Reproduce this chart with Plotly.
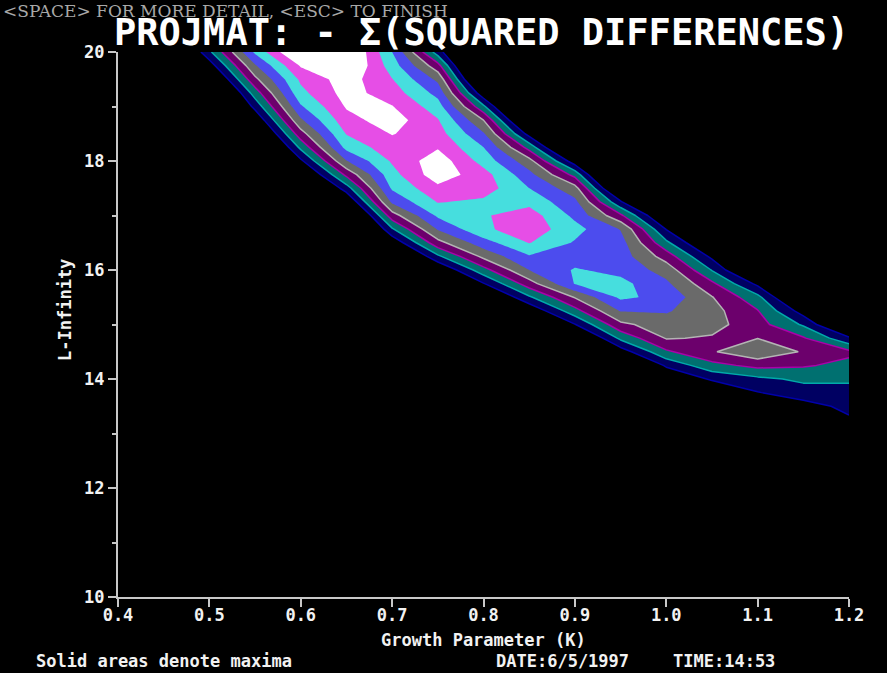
import numpy as np
import plotly.graph_objects as go

# Grid axes: growth parameter K (columns) and L-infinity (rows, top to bottom)
growth_k = [0.40, 0.45, 0.50, 0.55, 0.60, 0.65, 0.70, 0.75, 0.80,
            0.85, 0.90, 0.95, 1.00, 1.05, 1.10, 1.15, 1.20]
l_infinity = [20.0, 19.75, 19.5, 19.25, 19.0, 18.75, 18.5, 18.25, 18.0,
              17.75, 17.5, 17.25, 17.0, 16.75, 16.5, 16.25, 16.0, 15.75,
              15.5, 15.25, 15.0, 14.75, 14.5, 14.25, 14.0, 13.75, 13.5,
              13.25, 13.0]

# Fit score (contour-level units) down each K column, L = 20 .. 13
fit_k040 = [-3, -3, -3, -3, -3, -3, -3, -3, -3, -3, -3, -3, -3, -3, -3,
            -3, -3, -3, -3, -3, -3, -3, -3, -3, -3, -3, -3, -3, -3]
fit_k045 = [-2.5, -3, -3, -3, -3, -3, -3, -3, -3, -3, -3, -3, -3, -3, -3,
            -3, -3, -3, -3, -3, -3, -3, -3, -3, -3, -3, -3, -3, -3]
fit_k050 = [1.8, 0.45, -0.9, -2.3, -3, -3, -3, -3, -3, -3, -3, -3, -3, -3, -3,
            -3, -3, -3, -3, -3, -3, -3, -3, -3, -3, -3, -3, -3, -3]
fit_k055 = [6.2, 4.88, 3.75, 2.49, 1.33, 0.05, -1.2, -2.5, -3, -3, -3, -3, -3,
            -3, -3, -3, -3, -3, -3, -3, -3, -3, -3, -3, -3, -3, -3, -3, -3]
fit_k060 = [9.5, 8.1, 7.2, 6.71, 5.88, 4.83, 3.58, 2.24, 0.78, -0.7, -2.2, -3,
            -3, -3, -3, -3, -3, -3, -3, -3, -3, -3, -3, -3, -3, -3, -3, -3, -3]
fit_k065 = [9.5, 9.3, 8.5, 8.4, 8.1, 7.65, 7.05, 6.31, 4.94, 3.24, 1.53, -0.18,
            -1.9, -3, -3, -3, -3, -3, -3, -3, -3, -3, -3, -3, -3, -3, -3, -3, -3]
fit_k070 = [6.0, 6.5, 7.04, 7.5, 8.05, 8.5, 8.05, 7.59, 7.13, 6.64, 6.14, 5.18,
            3.56, 1.88, 0.16, -1.55, -3, -3, -3, -3, -3, -3, -3, -3, -3, -3,
            -3, -3, -3]
fit_k075 = [1.5, 3.37, 4.77, 5.68, 6.45, 7.08, 7.44, 7.9, 8.6, 8.6, 7.74, 7.06,
            6.17, 5.08, 3.66, 1.8, -0.14, -2.0, -3, -3, -3, -3, -3, -3, -3, -3,
            -3, -3, -3]
fit_k080 = [-3, -3, -1.7, 0.21, 2.21, 4.0, 5.12, 6.02, 6.61, 7.4, 7.5, 6.8,
            6.9, 6.8, 5.57, 4.26, 2.63, 0.93, -0.8, -2.5, -3, -3, -3, -3, -3,
            -3, -3, -3, -3]
fit_k085 = [-3, -3, -3, -3, -3, -1.36, 0.59, 2.63, 4.36, 5.33, 6.01, 6.7, 7.5,
            7.6, 7.05, 5.91, 5.0, 3.55, 1.84, 0.09, -1.6, -3, -3, -3, -3, -3,
            -3, -3, -3]
fit_k090 = [-3, -3, -3, -3, -3, -3, -3, -1.9, 0.37, 2.66, 4.39, 5.26, 5.76,
            6.35, 5.9, 5.5, 6.1, 6.05, 4.07, 2.64, 0.95, -0.94, -2.9, -3, -3, -3,
            -3, -3, -3]
fit_k095 = [-3, -3, -3, -3, -3, -3, -3, -3, -3, -3, -1.1, 1.15, 3.2, 4.95, 5.4,
            5.5, 5.7, 6.3, 6.2, 5.07, 3.75, 2.24, 0.43, -2.4, -3, -3, -3, -3, -3]
fit_k100 = [-3, -3, -3, -3, -3, -3, -3, -3, -3, -3, -3, -3, -0.5, 0.95, 2.23,
            3.55, 4.59, 5.2, 5.7, 5.1, 4.57, 4.07, 2.83, 1.23, -0.5, -2.2, -3,
            -3, -3]
fit_k105 = [-3, -3, -3, -3, -3, -3, -3, -3, -3, -3, -3, -3, -3, -3, -0.57, 0.75,
            1.95, 3.21, 4.05, 4.35, 4.35, 3.9, 3.9, 2.66, 1.2, -0.5, -2.2, -3, -3]
fit_k110 = [-3, -3, -3, -3, -3, -3, -3, -3, -3, -3, -3, -3, -3, -3, -3, -3,
            -1.2, 0.74, 2.3, 3.05, 3.4, 3.98, 4.8, 3.3, 1.76, 0.95, -0.4, -1.8,
            -3]
fit_k115 = [-3, -3, -3, -3, -3, -3, -3, -3, -3, -3, -3, -3, -3, -3, -3, -3, -3,
            -3, -1.2, 0.51, 1.86, 3.1, 3.9, 3.1, 2.2, 1.54, 0.58, -0.8, -2.2]
fit_k120 = [-3, -3, -3, -3, -3, -3, -3, -3, -3, -3, -3, -3, -3, -3, -3, -3, -3,
            -3, -3, -3, -1.1, 1.18, 3.2, 2.75, 2.14, 1.68, 1.27, 0.85, -0.5]

# Y-axis ticks
l_ticks = [10, 12, 14, 16, 18, 20]

score = np.column_stack([
    fit_k040, fit_k045, fit_k050, fit_k055, fit_k060, fit_k065, fit_k070,
    fit_k075, fit_k080, fit_k085, fit_k090, fit_k095, fit_k100, fit_k105,
    fit_k110, fit_k115, fit_k120,
])

# Band colours from the background up to the maxima (solid white)
band_colors = ["#000000", "#000062", "#007070", "#6c006c", "#6a6a6a",
               "#4c4cee", "#46dede", "#e64ee6", "#ffffff"]
colorscale = [[i / (len(band_colors) - 1), c] for i, c in enumerate(band_colors)]

MONO = "DejaVu Sans Mono"

fig = go.Figure()

fig.add_trace(go.Contour(
    x=growth_k, y=l_infinity, z=score,
    autocontour=False,
    contours=dict(start=1, end=8, size=1, coloring="fill", showlines=False),
    colorscale=colorscale,
    line=dict(width=0, smoothing=0),
    showscale=False,
    hoverinfo="skip",
))

# Outline colours for the lower contour levels
outline = [(1, "#0000aa"), (2, "#00aaaa"), (3, "#aa00aa"), (4, "#b4b4b4")]
for level, col in outline:
    fig.add_trace(go.Contour(
        x=growth_k, y=l_infinity, z=score,
        autocontour=False,
        contours=dict(start=level, end=level, size=1, coloring="none"),
        line=dict(color=col, width=1.5, smoothing=0),
        showscale=False,
        hoverinfo="skip",
    ))

axis_col = "#c8c8c8"
tick_font = dict(family=MONO, size=17, color="#f2f2f2", weight="bold")

fig.update_layout(
    width=887, height=673,
    margin=dict(l=118, r=38, t=52, b=76),
    paper_bgcolor="#000000",
    plot_bgcolor="#000000",
    showlegend=False,
    xaxis=dict(
        range=[0.4, 1.2], tick0=0.4, dtick=0.1, tickformat=".1f",
        ticks="outside", ticklen=8, tickwidth=2, tickcolor=axis_col,
        ticklabelstandoff=-6,
        showline=True, linecolor=axis_col, linewidth=2,
        showgrid=False, zeroline=False, tickfont=tick_font,
    ),
    yaxis=dict(
        range=[10, 20], tickvals=l_ticks,
        ticks="outside", ticklen=8, tickwidth=2, tickcolor=axis_col,
        minor=dict(dtick=1, ticks="outside", ticklen=4, tickwidth=2,
                   tickcolor=axis_col, showgrid=False),
        showline=True, linecolor=axis_col, linewidth=2,
        showgrid=False, zeroline=False, tickfont=tick_font,
    ),
)

def px_x(px):
    return (px - 118) / 731.0

def px_y(py):
    return (597 - py) / 545.0

label_font = dict(family=MONO, size=17, color="#f2f2f2", weight="bold")

fig.add_annotation(
    text="<SPACE> FOR MORE DETAIL, <ESC> TO FINISH",
    xref="paper", yref="paper", x=px_x(1), y=px_y(11),
    xanchor="left", yanchor="middle", showarrow=False,
    font=dict(family="DejaVu Serif", size=17, color="#a8a8a8"),
)
fig.add_annotation(
    text="PROJMAT: - \u03a3(SQUARED DIFFERENCES)",
    xref="paper", yref="paper", x=px_x(481), y=px_y(33),
    xanchor="center", yanchor="middle", showarrow=False,
    font=dict(family=MONO, size=37, color="#ffffff", weight="bold"),
)
fig.add_annotation(
    text="L-Infinity", textangle=-90,
    xref="paper", yref="paper", x=px_x(65), y=px_y(310),
    xanchor="center", yanchor="middle", showarrow=False,
    font=label_font,
)
fig.add_annotation(
    text="Growth Parameter (K)",
    xref="paper", yref="paper", x=px_x(483), y=px_y(640),
    xanchor="center", yanchor="middle", showarrow=False,
    font=label_font,
)
fig.add_annotation(
    text="Solid areas denote maxima",
    xref="paper", yref="paper", x=px_x(34), y=px_y(661),
    xanchor="left", yanchor="middle", showarrow=False,
    font=label_font,
)
fig.add_annotation(
    text="DATE:6/5/1997",
    xref="paper", yref="paper", x=px_x(494), y=px_y(661),
    xanchor="left", yanchor="middle", showarrow=False,
    font=label_font,
)
fig.add_annotation(
    text="TIME:14:53",
    xref="paper", yref="paper", x=px_x(671), y=px_y(661),
    xanchor="left", yanchor="middle", showarrow=False,
    font=label_font,
)

fig.write_html("out.html")
